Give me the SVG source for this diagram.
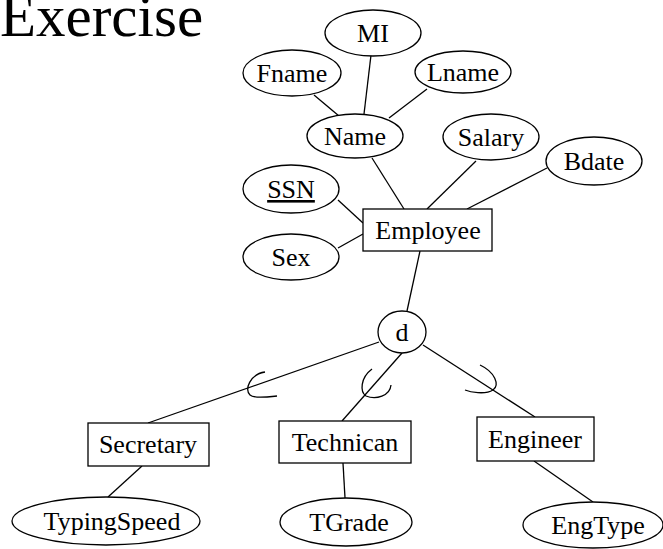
<svg xmlns="http://www.w3.org/2000/svg" width="663" height="549" viewBox="0 0 663 549">
<style>
.s{fill:#fff;stroke:#000;stroke-width:1.3}
.l{fill:none;stroke:#000;stroke-width:1.3}
.t{font-family:"Liberation Serif","Times New Roman",serif;font-size:26px;fill:#000;text-anchor:middle}
</style>
<rect width="663" height="549" fill="#fff"/>
<text x="0" y="36" style="font-family:'Liberation Serif','Times New Roman',serif;font-size:59px;fill:#000">Exercise</text>
<g id="connectors" class="l">
<line x1="314" y1="95" x2="339" y2="116"/>
<line x1="371" y1="55" x2="364" y2="114"/>
<line x1="427" y1="89" x2="389" y2="118"/>
<line x1="372" y1="158" x2="404" y2="209"/>
<line x1="476" y1="161" x2="427" y2="209"/>
<line x1="547" y1="168" x2="467" y2="209"/>
<line x1="338" y1="200" x2="363" y2="223"/>
<line x1="338" y1="248" x2="363" y2="234"/>
<line x1="420" y1="251" x2="407" y2="311"/>
<line x1="379" y1="342" x2="148" y2="423"/>
<line x1="402" y1="353" x2="342" y2="421"/>
<line x1="423" y1="345" x2="535" y2="417"/>
<line x1="142" y1="466" x2="108" y2="497"/>
<line x1="343" y1="463" x2="345" y2="498"/>
<line x1="534" y1="461" x2="593" y2="502"/>
<path d="M265,372 C250,374 244,390 250,395 C254,399 268,397 277,396"/>
<path d="M372,369 C360,378 360,392 366,396 C376,400 390,396 391,385"/>
<path d="M480,365 C495,372 500,385 493,390 C485,395 470,392 465,390"/>
</g>
<g id="MI"><ellipse class="s" cx="373" cy="33" rx="48" ry="23"/><text class="t" x="373" y="42">MI</text></g>
<g id="Fname"><ellipse class="s" cx="292" cy="73" rx="49" ry="23"/><text class="t" x="292" y="82">Fname</text></g>
<g id="Lname"><ellipse class="s" cx="463" cy="72" rx="48" ry="21"/><text class="t" x="463" y="81">Lname</text></g>
<g id="Name"><ellipse class="s" cx="355" cy="136" rx="48" ry="22"/><text class="t" x="355" y="145">Name</text></g>
<g id="Salary"><ellipse class="s" cx="491" cy="137" rx="48" ry="23"/><text class="t" x="491" y="146">Salary</text></g>
<g id="Bdate"><ellipse class="s" cx="594" cy="161" rx="48" ry="24"/><text class="t" x="594" y="170">Bdate</text></g>
<g id="SSN"><ellipse class="s" cx="291" cy="189" rx="48" ry="24"/><text class="t" x="291" y="198" text-decoration="underline">SSN</text></g>
<g id="Sex"><ellipse class="s" cx="291" cy="257" rx="48" ry="23"/><text class="t" x="291" y="266">Sex</text></g>
<g id="Employee"><rect class="s" x="363" y="209" width="129" height="42"/><text class="t" x="428" y="239">Employee</text></g>
<g id="d"><ellipse class="s" cx="402" cy="332" rx="24" ry="21"/><text class="t" x="402" y="341">d</text></g>
<g id="Secretary"><rect class="s" x="88" y="423" width="121" height="43"/><text class="t" x="148" y="453">Secretary</text></g>
<g id="Technican"><rect class="s" x="279" y="421" width="132" height="42"/><text class="t" x="345" y="451">Technican</text></g>
<g id="Engineer"><rect class="s" x="477" y="417" width="117" height="44"/><text class="t" x="535" y="448">Engineer</text></g>
<g id="TypingSpeed"><ellipse class="s" cx="106" cy="521" rx="94" ry="24"/><text class="t" x="112" y="530">TypingSpeed</text></g>
<g id="TGrade"><ellipse class="s" cx="346" cy="522" rx="66" ry="24"/><text class="t" x="349" y="531">TGrade</text></g>
<g id="EngType"><ellipse class="s" cx="593" cy="525" rx="70" ry="23"/><text class="t" x="598" y="534">EngType</text></g>
</svg>
